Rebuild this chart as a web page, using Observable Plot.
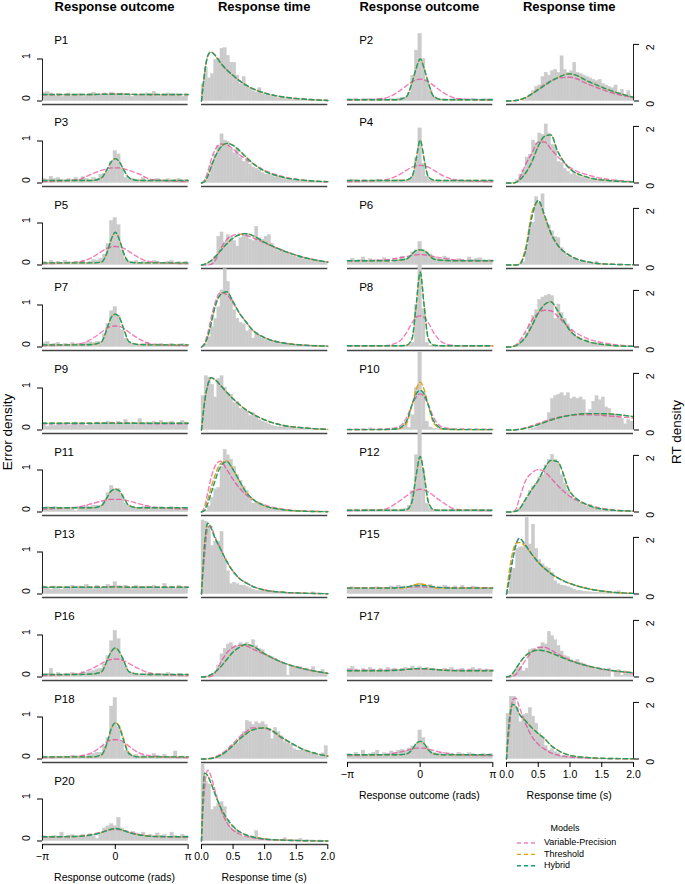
<!DOCTYPE html>
<html><head><meta charset="utf-8">
<script src="https://cdn.jsdelivr.net/npm/d3@7"></script>
<script src="https://cdn.jsdelivr.net/npm/@observablehq/plot@0.6"></script>
<style>
body{margin:0;background:#fff;}
#fig{position:relative;width:685px;height:884px;font-family:"Liberation Sans",Arial,Helvetica,sans-serif;color:#000;overflow:hidden;}
.lbl{position:absolute;white-space:nowrap;line-height:1;}
</style></head><body><div id="fig"></div>
<script>
// ---------------- DATA ----------------
const participants = ["P1","P2","P3","P4","P5","P6","P7","P8","P9","P10","P11","P12","P13","P15","P16","P17","P18","P19","P20"];
const models = ["Variable-Precision","Threshold","Hybrid"];
const columnTitles = ["Response outcome","Response time"];
const axisTitles = ["Response outcome (rads)","Response time (s)"];
const outcomeTicks = [-Math.PI, 0, Math.PI];
const outcomeTickLabels = ["−π","0","π"];
const rtTicks = [0, 0.5, 1, 1.5, 2];
const rtTickLabels = ["0.0","0.5","1.0","1.5","2.0"];
const errorTicks = [0, 1];
const rtDensityTicks = [0, 2];
const rtBinWidth = 0.05;
const outcomeGrid = [-Math.PI,-1.6,-1.0,-0.6,-0.35,-0.18,0,0.18,0.35,0.6,1.0,1.6,Math.PI];
const rtGrid = [0,0.05,0.1,0.15,0.2,0.3,0.4,0.5,0.6,0.7,0.8,1.0,1.3,1.6,2.0];

// error histograms (41 bins centred on 0, -pi..pi)
const outcomeHist = [
/*P1*/ [0.2,0.22,0.18,0.12,0.16,0.1,0.14,0.18, 0.12,0.15,0.17,0.1,0.14,0.16,0.2,0.12, 0.16,0.18,0.15,0.2,0.16,0.14,0.18,0.12,0.16, 0.1,0.15,0.14,0.12,0.18,0.16,0.22,0.1, 0.15,0.14,0.18,0.12,0.16,0.14,0.1,0.12],
/*P2*/ [0.05,0.04,0.06,0.03,0.05,0.04,0.05,0.03, 0.04,0.06,0.04,0.03,0.05,0.04,0.06,0.08, 0.08,0.2,0.6,1.2,1.6,1.0,0.5,0.25,0.1, 0.05,0.04,0.05,0.03,0.04,0.05,0.04,0.05, 0.03,0.04,0.05,0.04,0.03,0.05,0.04,0.05],
/*P3*/ [0.1,0.08,0.15,0.1,0.12,0.08,0.06,0.1, 0.07,0.12,0.08,0.14,0.1,0.06,0.12,0.1, 0.2,0.22,0.3,0.5,0.76,0.68,0.35,0.12,0.08, 0.1,0.06,0.08,0.12,0.06,0.05,0.08,0.1, 0.07,0.06,0.09,0.05,0.08,0.1,0.06,0.08],
/*P4*/ [0.04,0.08,0.05,0.04,0.06,0.05,0.04,0.05, 0.08,0.06,0.05,0.04,0.06,0.05,0.08,0.05, 0.06,0.08,0.15,0.6,1.3,0.45,0.15,0.06,0.05, 0.05,0.06,0.04,0.05,0.06,0.04,0.05,0.06, 0.05,0.04,0.06,0.05,0.04,0.05,0.06,0.04],
/*P5*/ [0.08,0.05,0.1,0.06,0.08,0.05,0.1,0.07, 0.05,0.08,0.06,0.1,0.05,0.08,0.12,0.1, 0.15,0.25,0.5,1.05,1.12,0.95,0.35,0.15,0.08, 0.06,0.1,0.05,0.08,0.06,0.04,0.1,0.08, 0.05,0.06,0.08,0.1,0.05,0.07,0.06,0.08],
/*P6*/ [0.1,0.15,0.08,0.12,0.18,0.1,0.14,0.08, 0.12,0.1,0.16,0.12,0.05,0.14,0.12,0.2, 0.15,0.2,0.3,0.35,0.55,0.35,0.3,0.25,0.2, 0.15,0.12,0.2,0.16,0.12,0.1,0.14,0.12, 0.1,0.18,0.12,0.15,0.16,0.12,0.1,0.12],
/*P7*/ [0.1,0.12,0.06,0.08,0.1,0.05,0.08,0.06, 0.1,0.05,0.08,0.06,0.1,0.12,0.1,0.12, 0.12,0.3,0.55,0.85,0.95,0.75,0.4,0.2,0.1, 0.08,0.06,0.05,0.08,0.1,0.06,0.05,0.06, 0.08,0.05,0.06,0.08,0.05,0.06,0.07,0.05],
/*P8*/ [0.02,0.03,0.02,0.03,0.02,0.02,0.03,0.02, 0.03,0.02,0.02,0.03,0.02,0.03,0.02,0.02, 0.03,0.05,0.1,1.0,2.1,0.9,0.1,0.03,0.02, 0.02,0.03,0.02,0.02,0.03,0.02,0.03,0.02, 0.02,0.03,0.02,0.02,0.03,0.02,0.02,0.03],
/*P9*/ [0.12,0.08,0.15,0.1,0.14,0.12,0.16,0.1, 0.14,0.18,0.12,0.16,0.1,0.14,0.12,0.18, 0.16,0.14,0.2,0.18,0.15,0.2,0.14,0.24,0.15, 0.18,0.12,0.26,0.14,0.18,0.12,0.2,0.16, 0.22,0.14,0.18,0.2,0.12,0.16,0.22,0.18],
/*P10*/[0.02,0.01,0.02,0.01,0.02,0.01,0.04,0.02, 0.01,0.02,0.01,0.02,0.01,0.02,0.03,0.05, 0.14,0.05,0.35,1.0,1.86,0.9,0.2,0.06,0.03, 0.02,0.01,0.02,0.01,0.01,0.02,0.01,0.02, 0.01,0.02,0.01,0.02,0.01,0.02,0.01,0.02],
/*P11*/[0.1,0.12,0.08,0.12,0.1,0.08,0.1,0.08, 0.1,0.02,0.12,0.1,0.14,0.12,0.15,0.15, 0.15,0.25,0.45,0.62,0.55,0.55,0.4,0.2,0.15, 0.12,0.1,0.08,0.12,0.15,0.1,0.08,0.1, 0.12,0.08,0.1,0.12,0.08,0.1,0.06,0.1],
/*P12*/[0.05,0.04,0.06,0.03,0.05,0.06,0.04,0.05, 0.03,0.04,0.05,0.04,0.06,0.05,0.04,0.06, 0.08,0.15,0.5,1.35,2.0,1.0,0.2,0.08,0.05, 0.04,0.05,0.03,0.04,0.06,0.04,0.05,0.03, 0.04,0.05,0.04,0.06,0.04,0.05,0.04,0.05],
/*P13*/[0.18,0.15,0.1,0.18,0.12,0.1,0.16,0.14, 0.2,0.12,0.18,0.15,0.22,0.14,0.12,0.2, 0.15,0.12,0.22,0.16,0.28,0.18,0.14,0.2,0.15, 0.12,0.2,0.16,0.14,0.18,0.12,0.2,0.15, 0.12,0.24,0.15,0.18,0.12,0.2,0.16,0.14],
/*P15*/[0.14,0.16,0.12,0.15,0.14,0.13,0.1,0.14, 0.16,0.12,0.15,0.14,0.18,0.12,0.2,0.16, 0.18,0.12,0.2,0.22,0.25,0.2,0.16,0.22,0.18, 0.15,0.12,0.2,0.16,0.14,0.18,0.12,0.2, 0.15,0.14,0.18,0.16,0.12,0.15,0.14,0.12],
/*P16*/[0.06,0.08,0.2,0.06,0.1,0.05,0.08,0.06, 0.1,0.05,0.08,0.12,0.1,0.12,0.15,0.18, 0.2,0.3,0.5,0.85,1.1,0.9,0.45,0.25,0.12, 0.1,0.08,0.05,0.06,0.08,0.1,0.05,0.06, 0.08,0.05,0.1,0.06,0.05,0.08,0.06,0.05],
/*P17*/[0.2,0.24,0.18,0.14,0.2,0.16,0.22,0.18, 0.14,0.2,0.16,0.22,0.18,0.2,0.16,0.2, 0.22,0.18,0.25,0.2,0.24,0.18,0.22,0.16,0.2, 0.18,0.14,0.2,0.16,0.22,0.12,0.18,0.2, 0.14,0.18,0.22,0.16,0.2,0.14,0.18,0.16],
/*P18*/[0.06,0.04,0.05,0.06,0.04,0.05,0.06,0.05, 0.08,0.04,0.06,0.08,0.06,0.1,0.12,0.15, 0.15,0.3,0.5,1.25,1.45,0.75,0.4,0.2,0.12, 0.08,0.1,0.06,0.08,0.05,0.06,0.12,0.08, 0.06,0.1,0.05,0.06,0.18,0.05,0.06,0.05],
/*P19*/[0.12,0.1,0.15,0.08,0.2,0.1,0.12,0.15, 0.2,0.1,0.14,0.12,0.18,0.15,0.2,0.22, 0.2,0.25,0.3,0.35,0.68,0.5,0.3,0.2,0.15, 0.12,0.15,0.1,0.14,0.12,0.1,0.15,0.12, 0.1,0.14,0.12,0.1,0.08,0.12,0.1,0.12],
/*P20*/[0.12,0.1,0.08,0.12,0.1,0.2,0.1,0.12, 0.14,0.08,0.12,0.15,0.1,0.16,0.12,0.05, 0.2,0.3,0.35,0.4,0.35,0.55,0.3,0.25,0.2, 0.22,0.18,0.14,0.2,0.12,0.15,0.1,0.18, 0.12,0.14,0.1,0.2,0.12,0.1,0.15,0.12]
];

// response-time histograms (40 bins of 0.05 s, 0..2 s)
const rtHist = [
/*P1*/ [0.58,1.17,0.8,0.95,1.45,1.5,1.85,1.87,1.6,1.35, 1.35,0.9,0.6,0.85,0.5,0.45,0.35,0.3,0.45,0.25, 0.2,0.22,0.15,0.12,0.1,0.12,0.08,0.06,0.05,0.06, 0.04,0.03,0.04,0.03,0.02,0.03,0.02,0.03,0.02,0.01],
/*P2*/ [0,0,0,0,0,0.02,0.1,0.2,0.35,0.5, 0.55,0.85,1.0,0.9,1.05,1.1,1.0,1.58,1.1,1.0, 1.05,1.35,1.0,0.95,0.9,0.85,0.8,0.75,0.7,0.75, 0.6,0.55,0.5,0.45,0.55,0.3,0.4,0.2,0.35,0.15],
/*P3*/ [0,0.1,0.3,0.7,1.0,1.3,1.72,1.5,1.45,1.2, 1.05,1.2,0.9,0.75,0.8,0.65,0.55,0.5,0.45,0.35, 0.3,0.3,0.25,0.2,0.22,0.15,0.15,0.12,0.1,0.12, 0.08,0.07,0.06,0.08,0.05,0.04,0.05,0.03,0.04,0.03],
/*P4*/ [0,0,0.02,0.1,0.3,0.45,0.9,1.0,1.5,1.4, 1.75,1.7,2.07,1.75,1.35,1.3,0.75,0.7,0.5,0.4, 0.3,0.35,0.25,0.2,0.2,0.15,0.15,0.1,0.12,0.1, 0.08,0.1,0.05,0.06,0.1,0.05,0.08,0.05,0.04,0.03],
/*P5*/ [0,0.02,0.05,0.15,0.3,1.0,1.15,0.8,1.05,1.0, 0.85,0.65,0.95,1.05,1.1,0.9,0.85,1.35,0.95,0.9, 1.0,1.05,0.75,0.6,0.5,0.55,0.45,0.4,0.35,0.3, 0.25,0.3,0.2,0.18,0.15,0.2,0.12,0.1,0.1,0.05],
/*P6*/ [0,0,0,0,0.02,0.1,0.6,1.3,1.5,2.4, 2.2,2.5,1.6,1.4,1.2,1.0,0.95,0.6,0.4,0.3, 0.25,0.2,0.15,0.12,0.1,0.08,0.06,0.05,0.12,0.03, 0.03,0.02,0.02,0.01,0.01,0.01,0.01,0.01,0.01,0.01],
/*P7*/ [0,0.1,0.35,0.7,1.0,1.4,2.0,2.75,2.3,1.7, 1.3,1.0,0.85,0.8,0.55,0.6,0.3,0.5,0.4,0.3, 0.25,0.2,0.18,0.2,0.12,0.15,0.1,0.12,0.1,0.08, 0.07,0.06,0.05,0.04,0.05,0.03,0.04,0.03,0.02,0.02],
/*P8*/ [0,0,0,0.05,0.15,0.3,0.5,0.8,1.1,1.3, 1.66,1.75,1.8,1.85,1.8,1.0,1.5,1.2,1.0,0.8, 0.6,0.45,0.35,0.3,0.2,0.25,0.15,0.12,0.15,0.1, 0.08,0.06,0.05,0.04,0.03,0.03,0.02,0.02,0.02,0.02],
/*P9*/ [1.2,1.9,1.85,1.6,1.15,1.8,1.9,1.5,1.3,1.25, 0.95,1.0,0.75,0.7,0.65,0.5,0.6,0.45,0.35,0.3, 0.25,0.2,0.15,0.12,0.1,0.1,0.12,0.1,0.08,0.1, 0.06,0.05,0.04,0.05,0.03,0.03,0.02,0.03,0.02,0.02],
/*P10*/[0,0,0,0,0,0,0,0.02,0.05,0.1, 0.15,0.25,0.25,0.6,1.1,1.2,1.25,1.3,1.2,1.3, 1.1,1.15,1.1,1.15,1.05,0.6,0.7,1.0,1.2,1.05, 1.15,0.8,0.75,0.5,0.55,0.45,0.4,0.2,0.35,0.3],
/*P11*/[0,0.05,0.2,0.5,0.8,0.85,1.6,2.2,2.0,1.85, 1.6,1.3,1.1,0.9,0.75,0.5,0.3,0.35,0.3,0.2, 0.15,0.12,0.1,0.1,0.08,0.06,0.05,0.04,0.05,0.03, 0.03,0.02,0.03,0.02,0.02,0.01,0.02,0.01,0.01,0.01],
/*P12*/[0,0,0,0.05,0.1,0.3,0.5,0.75,0.9,1.0, 1.2,1.3,1.65,1.85,2.02,1.85,1.7,1.3,1.0,0.75, 0.55,0.45,0.35,0.3,0.25,0.2,0.25,0.15,0.12,0.1, 0.06,0.05,0.04,0.03,0.03,0.03,0.03,0.03,0.03,0.03],
/*P13*/[2.6,2.55,2.4,1.7,1.85,1.85,2.2,1.25,0.8,0.35, 0.4,0.35,0.3,0.3,0.25,0.2,0.15,0.12,0.1,0.12, 0.1,0.08,0.1,0.06,0.05,0.04,0.05,0.03,0.03,0.02, 0.03,0.02,0.02,0.01,0.02,0.06,0.01,0,0,0],
/*P15*/[0.1,0.85,0.9,1.6,1.65,1.65,2.7,1.75,2.45,1.6, 1.2,1.05,0.95,0.9,0.75,0.45,0.35,0.3,0.28,0.25, 0.2,0.15,0.12,0.1,0.08,0.07,0.06,0.05,0.05,0.04, 0.04,0.03,0.03,0.03,0.02,0.1,0.02,0.02,0.01,0.01],
/*P16*/[0,0,0.02,0.05,0.15,0.4,0.8,1.0,1.15,1.2, 1.05,1.1,1.2,1.15,1.2,1.1,1.3,1.1,1.0,0.95, 0.8,0.75,0.7,0.65,0.55,0.5,0.45,0.05,0.4,0.35, 0.3,0.35,0.25,0.3,0.2,0.35,0.2,0.15,0.25,0.12],
/*P17*/[0,0.05,0.12,0.3,0.35,0.2,0.3,0.95,1.0,0.95, 1.05,1.2,1.15,1.6,1.45,1.3,1.1,0.9,0.75,0.7, 0.6,0.55,0.6,0.5,0.45,0.4,0.35,0.3,0.25,0.3, 0.25,0.2,0.3,0,0.2,0.25,0.05,0.2,0.15,0.12],
/*P18*/[0,0,0,0,0.02,0.1,0.15,0.2,0.3,0.45, 0.5,0.55,0.75,0.95,1.35,1.3,1.2,1.3,1.25,1.3, 1.2,1.05,0.7,1.1,0.95,0.8,0.6,0.55,0.5,0.35, 0.3,0.3,0.3,0.25,0.2,0.2,0.15,0.1,0.2,0.45],
/*P19*/[1.6,2.2,2.2,1.8,1.3,1.55,1.6,1.8,1.5,1.25, 0.9,0.75,0.45,0.3,0.35,0.25,0.2,0.1,0.12,0.08, 0.06,0.05,0.04,0.03,0.03,0.02,0.02,0.02,0.01,0.01, 0.01,0.01,0.01,0,0.01,0,0,0,0,0],
/*P20*/[2.7,2.1,2.0,1.1,1.2,1.3,1.37,1.2,0.7,0.5, 0.4,0.35,0.2,0.15,0.12,0.15,0.15,0.35,0.1,0.08, 0.06,0.05,0.04,0.05,0.04,0.03,0.1,0.03,0.04,0.03, 0.02,0.08,0.02,0.03,0.02,0.02,0.01,0.02,0.01,0.01]
];

// model predictions for error density, sampled at outcomeGrid
const outcomeVP = [
/*P1*/ [0.15,0.15,0.155,0.16,0.17,0.175,0.178,0.175,0.17,0.16,0.155,0.15,0.15],
/*P2*/ [0.02,0.06,0.2,0.36,0.46,0.5,0.52,0.5,0.46,0.36,0.2,0.06,0.02],
/*P3*/ [0.03,0.08,0.22,0.3,0.34,0.36,0.36,0.36,0.34,0.3,0.22,0.08,0.03],
/*P4*/ [0.03,0.07,0.17,0.3,0.38,0.41,0.42,0.41,0.38,0.3,0.17,0.07,0.03],
/*P5*/ [0.03,0.07,0.18,0.32,0.4,0.43,0.44,0.43,0.4,0.32,0.18,0.07,0.03],
/*P6*/ [0.1,0.12,0.16,0.2,0.23,0.24,0.25,0.24,0.23,0.2,0.16,0.12,0.1],
/*P7*/ [0.03,0.07,0.2,0.35,0.45,0.49,0.5,0.49,0.45,0.35,0.2,0.07,0.03],
/*P8*/ [0.02,0.03,0.1,0.33,0.58,0.7,0.74,0.7,0.58,0.33,0.1,0.03,0.02],
/*P9*/ [0.15,0.15,0.155,0.16,0.165,0.17,0.172,0.17,0.165,0.16,0.155,0.15,0.15],
/*P10*/[0.01,0.02,0.06,0.28,0.6,0.78,0.86,0.78,0.6,0.28,0.06,0.02,0.01],
/*P11*/[0.07,0.12,0.2,0.26,0.29,0.3,0.3,0.3,0.29,0.26,0.2,0.12,0.07],
/*P12*/[0.03,0.06,0.22,0.38,0.48,0.52,0.54,0.52,0.48,0.38,0.22,0.06,0.03],
/*P13*/[0.16,0.16,0.165,0.17,0.175,0.18,0.18,0.18,0.175,0.17,0.165,0.16,0.16],
/*P15*/[0.15,0.15,0.155,0.16,0.165,0.17,0.17,0.17,0.165,0.16,0.155,0.15,0.15],
/*P16*/[0.03,0.08,0.2,0.32,0.39,0.42,0.43,0.42,0.39,0.32,0.2,0.08,0.03],
/*P17*/[0.16,0.16,0.17,0.18,0.185,0.19,0.19,0.19,0.185,0.18,0.17,0.16,0.16],
/*P18*/[0.03,0.07,0.15,0.3,0.41,0.45,0.46,0.45,0.41,0.3,0.15,0.07,0.03],
/*P19*/[0.08,0.1,0.15,0.2,0.24,0.26,0.26,0.26,0.24,0.2,0.15,0.1,0.08],
/*P20*/[0.09,0.11,0.16,0.21,0.25,0.27,0.27,0.27,0.25,0.21,0.16,0.11,0.09]
];
const outcomeHybrid = [
/*P1*/ [0.155,0.155,0.155,0.158,0.16,0.162,0.163,0.162,0.16,0.158,0.155,0.155,0.155],
/*P2*/ [0.03,0.03,0.03,0.1,0.44,0.76,1.0,0.76,0.44,0.1,0.03,0.03,0.03],
/*P3*/ [0.06,0.06,0.06,0.12,0.33,0.5,0.58,0.5,0.33,0.12,0.06,0.06,0.06],
/*P4*/ [0.06,0.06,0.06,0.07,0.15,0.55,1.02,0.55,0.15,0.07,0.06,0.06,0.06],
/*P5*/ [0.05,0.05,0.05,0.07,0.3,0.6,0.78,0.6,0.3,0.07,0.05,0.05,0.05],
/*P6*/ [0.1,0.1,0.11,0.14,0.26,0.34,0.36,0.34,0.26,0.14,0.11,0.1,0.1],
/*P7*/ [0.05,0.05,0.06,0.12,0.45,0.7,0.78,0.7,0.45,0.12,0.06,0.05,0.05],
/*P8*/ [0.03,0.03,0.03,0.04,0.2,0.95,1.78,0.95,0.2,0.04,0.03,0.03,0.03],
/*P9*/ [0.16,0.16,0.16,0.16,0.16,0.162,0.163,0.162,0.16,0.16,0.16,0.16,0.16],
/*P10*/[0.01,0.01,0.03,0.2,0.6,0.85,0.94,0.85,0.6,0.2,0.03,0.01,0.01],
/*P11*/[0.1,0.1,0.1,0.15,0.35,0.5,0.54,0.5,0.35,0.15,0.1,0.1,0.1],
/*P12*/[0.04,0.04,0.04,0.05,0.25,0.85,1.32,0.85,0.25,0.05,0.04,0.04,0.04],
/*P13*/[0.16,0.16,0.16,0.16,0.165,0.168,0.17,0.168,0.165,0.16,0.16,0.16,0.16],
/*P15*/[0.14,0.14,0.15,0.17,0.19,0.2,0.2,0.2,0.19,0.17,0.15,0.14,0.14],
/*P16*/[0.06,0.06,0.07,0.12,0.4,0.6,0.69,0.6,0.4,0.12,0.07,0.06,0.06],
/*P17*/[0.15,0.15,0.16,0.18,0.19,0.2,0.2,0.2,0.19,0.18,0.16,0.15,0.15],
/*P18*/[0.05,0.05,0.05,0.1,0.4,0.72,0.86,0.75,0.45,0.12,0.05,0.05,0.05],
/*P19*/[0.1,0.1,0.1,0.12,0.22,0.36,0.42,0.36,0.22,0.12,0.1,0.1,0.1],
/*P20*/[0.1,0.11,0.15,0.2,0.25,0.28,0.3,0.28,0.25,0.2,0.15,0.11,0.1]
];
// Threshold model: null where it coincides with the Hybrid curve
const outcomeThreshold = [
null,null,null,null,null,null,null,null,null,
/*P10*/[0.01,0.01,0.02,0.15,0.6,0.95,1.14,0.95,0.6,0.15,0.02,0.01,0.01],
null,null,null,
/*P15*/[0.14,0.14,0.14,0.15,0.2,0.23,0.24,0.23,0.2,0.15,0.14,0.14,0.14],
null,null,
/*P18*/[0.05,0.05,0.05,0.09,0.38,0.7,0.86,0.78,0.5,0.14,0.05,0.05,0.05],
null,null
];

// model predictions for RT density, sampled at rtGrid
const rtVP = [
/*P1*/ [0,1.0,1.6,1.73,1.65,1.35,1.1,0.9,0.72,0.57,0.45,0.28,0.14,0.07,0.02],
/*P2*/ [0,0,0.01,0.02,0.04,0.12,0.26,0.42,0.58,0.72,0.8,0.84,0.58,0.33,0.12],
/*P3*/ [0,0.1,0.4,0.8,1.1,1.38,1.35,1.2,1.0,0.85,0.7,0.45,0.22,0.1,0.04],
/*P4*/ [0,0,0,0.02,0.15,0.65,1.05,1.45,1.45,1.2,0.95,0.55,0.27,0.13,0.05],
/*P5*/ [0,0,0,0.02,0.1,0.55,0.9,1.05,1.09,1.05,0.97,0.78,0.5,0.28,0.1],
/*P6*/ [0,0,0,0,0.02,0.5,1.7,2.28,1.75,1.12,0.72,0.33,0.1,0.03,0.01],
/*P7*/ [0,0.15,0.5,1.0,1.45,1.92,1.85,1.55,1.2,0.9,0.62,0.33,0.14,0.07,0.03],
/*P8*/ [0,0,0.03,0.08,0.2,0.55,0.95,1.2,1.3,1.28,1.1,0.65,0.28,0.12,0.03],
/*P9*/ [0,1.0,1.6,1.85,1.8,1.58,1.33,1.1,0.9,0.72,0.58,0.36,0.16,0.08,0.02],
/*P10*/[0,0,0,0.01,0.03,0.08,0.15,0.23,0.31,0.38,0.44,0.52,0.54,0.5,0.42],
/*P11*/[0,0.2,0.7,1.2,1.55,1.8,1.5,1.15,0.85,0.62,0.45,0.25,0.1,0.04,0.02],
/*P12*/[0,0,0.02,0.1,0.45,1.1,1.38,1.5,1.42,1.2,0.95,0.55,0.24,0.1,0.03],
/*P13*/[0,1.4,2.35,2.4,2.1,1.6,1.15,0.8,0.55,0.4,0.28,0.14,0.06,0.03,0.01],
/*P15*/[0,0.6,1.25,1.75,1.97,1.72,1.4,1.12,0.9,0.72,0.58,0.37,0.18,0.08,0.02],
/*P16*/[0,0,0,0.02,0.1,0.5,0.85,1.05,1.12,1.1,1.0,0.8,0.5,0.3,0.13],
/*P17*/[0,0,0.02,0.1,0.25,0.6,0.88,1.04,1.05,0.95,0.82,0.6,0.38,0.24,0.14],
/*P18*/[0,0,0.01,0.03,0.06,0.17,0.33,0.55,0.78,0.95,1.1,1.08,0.7,0.35,0.1],
/*P19*/[0,1.2,2.1,2.15,1.85,1.25,0.8,0.52,0.35,0.22,0.14,0.07,0.03,0.01,0],
/*P20*/[0,1.9,2.5,2.3,1.9,1.15,0.65,0.38,0.25,0.17,0.12,0.06,0.03,0.01,0]
];
const rtHybrid = [
/*P1*/ [0,1.0,1.6,1.73,1.65,1.35,1.1,0.9,0.72,0.57,0.45,0.28,0.14,0.07,0.02],
/*P2*/ [0,0,0.01,0.02,0.04,0.12,0.25,0.4,0.55,0.7,0.82,0.96,0.68,0.4,0.13],
/*P3*/ [0,0.05,0.25,0.55,0.85,1.25,1.4,1.33,1.15,0.93,0.72,0.42,0.2,0.1,0.05],
/*P4*/ [0,0,0,0.02,0.1,0.35,0.75,1.3,1.65,1.7,1.15,0.5,0.19,0.09,0.04],
/*P5*/ [0,0.03,0.08,0.15,0.25,0.5,0.75,0.95,1.07,1.11,1.05,0.8,0.5,0.28,0.1],
/*P6*/ [0,0,0,0,0.02,0.5,1.7,2.28,1.75,1.12,0.72,0.33,0.1,0.03,0.01],
/*P7*/ [0,0.1,0.37,0.8,1.3,1.85,1.95,1.6,1.2,0.9,0.62,0.33,0.14,0.07,0.03],
/*P8*/ [0,0,0.02,0.05,0.12,0.35,0.75,1.2,1.5,1.6,1.3,0.58,0.18,0.07,0.02],
/*P9*/ [0,1.0,1.6,1.85,1.8,1.58,1.33,1.1,0.9,0.72,0.58,0.36,0.16,0.08,0.02],
/*P10*/[0,0,0,0.01,0.02,0.06,0.12,0.19,0.27,0.35,0.42,0.52,0.58,0.57,0.47],
/*P11*/[0,0.05,0.3,0.65,1.0,1.6,1.78,1.5,1.1,0.72,0.48,0.22,0.08,0.03,0.01],
/*P12*/[0,0,0.01,0.03,0.1,0.45,0.8,1.12,1.55,1.82,1.78,0.72,0.23,0.08,0.03],
/*P13*/[0,1.8,2.5,2.35,2.05,1.6,1.15,0.8,0.55,0.4,0.28,0.14,0.06,0.03,0.01],
/*P15*/[0,0.6,1.25,1.75,1.97,1.72,1.4,1.12,0.9,0.72,0.58,0.37,0.18,0.08,0.02],
/*P16*/[0,0.01,0.03,0.08,0.15,0.35,0.62,0.88,1.05,1.15,1.1,0.82,0.5,0.3,0.13],
/*P17*/[0,0.03,0.13,0.3,0.47,0.75,0.9,0.95,0.92,0.85,0.76,0.58,0.38,0.25,0.15],
/*P18*/[0,0,0.01,0.02,0.04,0.13,0.28,0.48,0.7,0.88,1.02,1.1,0.72,0.35,0.1],
/*P19*/[0,1.5,1.93,1.85,1.6,1.35,1.1,0.9,0.72,0.48,0.32,0.13,0.05,0.02,0.01],
/*P20*/[0,2.4,2.3,2.05,1.75,1.2,0.8,0.52,0.33,0.22,0.15,0.07,0.03,0.01,0]
];
const rtThreshold = [
null,null,null,null,null,
/*P6*/ [0,0,0,0,0.03,0.6,1.85,2.25,1.7,1.1,0.72,0.33,0.1,0.03,0.01],
null,null,null,null,
/*P11*/[0,0.1,0.45,0.85,1.2,1.7,1.8,1.5,1.1,0.72,0.48,0.22,0.08,0.03,0.01],
null,null,
/*P15*/[0,0.9,1.5,1.8,1.82,1.68,1.4,1.12,0.9,0.72,0.58,0.37,0.18,0.08,0.02],
null,null,null,null,null
];

// ---------------- STYLE / LAYOUT ----------------
const FONT = "'Liberation Sans', Arial, Helvetica, sans-serif";
const HIST = "#cbcbcb";
const modelColor = ["#E7298A", "#E6A00F", "#1B9E77"];
const modelOpacity = [0.6, 1, 1];
const modelDashOffset = [0, 0.9, 0];
const DASH = "4.5,3";
const outcomeLeft = [41.7, 346.7], outcomeWidth = [145.6, 145.3];
const rtLeft = [201, 505.7], rtWidth = [126.3, 127];
const ROW0 = 100, ROW_STEP = 82.3;
const PX_OUT = 42, PX_RT = 28.3;
const PH = 150, MB = 40, ML = 34, MR = 34;
const ZIN = PH - MB - 3.5; // zero line inside each svg

const fig = document.getElementById("fig");

function label(text, x, baseline, size, {anchor = "middle", weight = "normal"} = {}) {
  const d = document.createElement("div");
  d.className = "lbl";
  d.textContent = text;
  d.style.fontSize = size + "px";
  d.style.fontWeight = weight;
  d.style.left = x + "px";
  d.style.top = (baseline - 0.86 * size) + "px";
  const tx = anchor === "middle" ? "-50%" : anchor === "end" ? "-100%" : "0";
  d.style.transform = `translateX(${tx})`;
  fig.appendChild(d);
}
function vlabel(text, cx, cy, size) {
  const d = document.createElement("div");
  d.className = "lbl";
  d.textContent = text;
  d.style.fontSize = size + "px";
  d.style.left = cx + "px";
  d.style.top = cy + "px";
  d.style.transform = "translate(-50%,-50%) rotate(-90deg)";
  fig.appendChild(d);
}

function panel(kind, i) {
  const side = i % 2, row = Math.floor(i / 2);
  const isOut = kind === "outcome";
  const left = isOut ? outcomeLeft[side] : rtLeft[side];
  const pw = isOut ? outcomeWidth[side] : rtWidth[side];
  const dom = isOut ? [-Math.PI, Math.PI] : [0, 2];
  const ppu = isOut ? PX_OUT : PX_RT;
  const zeroY = ROW0 + ROW_STEP * row;
  const W = Math.ceil(pw + ML + MR);
  const bottom = i + 2 >= participants.length;

  const hv = isOut ? outcomeHist[i] : rtHist[i];
  const bw = isOut ? 2 * Math.PI / hv.length : rtBinWidth;
  const bins = hv.map((v, k) => ({x1: dom[0] + k * bw, x2: dom[0] + (k + 1) * bw, y: v}));
  const grid = isOut ? outcomeGrid : rtGrid;
  const hyb = isOut ? outcomeHybrid[i] : rtHybrid[i];
  const thr = (isOut ? outcomeThreshold[i] : rtThreshold[i]) || hyb;
  const vp = isOut ? outcomeVP[i] : rtVP[i];
  const series = [vp, thr, hyb];

  const marks = [
    Plot.rect(bins, {x1: "x1", x2: "x2", y1: 0, y2: "y", fill: HIST, stroke: HIST, strokeWidth: 0.4})
  ];
  series.forEach((arr, m) => {
    marks.push(Plot.line(grid.map((x, k) => ({x, y: arr[k]})), {
      x: "x", y: "y", curve: "monotone-x", stroke: modelColor[m], strokeOpacity: modelOpacity[m],
      strokeWidth: 1.4, strokeDasharray: DASH, strokeDashoffset: modelDashOffset[m]
    }));
  });
  marks.push(Plot.ruleY([0], {x1: dom[0], x2: dom[1], dy: 3.5, stroke: "#444", strokeWidth: 1.3}));

  if (isOut && side === 0) {
    marks.push(Plot.ruleX([dom[0]], {y1: errorTicks[0], y2: errorTicks[1], stroke: "#222"}));
    marks.push(Plot.axisY({anchor: "left", ticks: errorTicks, tickSize: 5, fill: "none", label: null}));
    marks.push(Plot.text(errorTicks, {y: d => d, text: d => String(d), frameAnchor: "left", rotate: -90, dx: -16, fontSize: 10.5}));
  }
  if (!isOut && side === 1) {
    marks.push(Plot.ruleX([dom[1]], {y1: rtDensityTicks[0], y2: rtDensityTicks[1], stroke: "#222"}));
    marks.push(Plot.axisY({anchor: "right", ticks: rtDensityTicks, tickSize: 5, fill: "none", label: null}));
    marks.push(Plot.text(rtDensityTicks, {y: d => d, text: d => String(d), frameAnchor: "right", rotate: -90, dx: 17, fontSize: 10.5}));
  }
  if (bottom) {
    const ticks = isOut ? outcomeTicks : rtTicks;
    const labs = isOut ? outcomeTickLabels : rtTickLabels;
    marks.push(Plot.axisX({anchor: "bottom", ticks, tickFormat: d => labs[ticks.indexOf(d)], tickSize: 5, tickPadding: 3, fontSize: 10.5, label: null}));
  }

  const svg = Plot.plot({
    width: W, height: PH, marginLeft: ML, marginRight: MR, marginTop: 0, marginBottom: MB,
    x: {domain: dom, range: [ML, ML + pw], axis: null},
    y: {domain: [0, 1], range: [ZIN, ZIN - ppu], axis: null},
    style: `position:absolute;left:${left - ML}px;top:${zeroY - ZIN}px;overflow:visible;background:none;font-family:${FONT};font-size:10.5px;color:#000;max-width:none;`,
    marks
  });
  fig.appendChild(svg);

  if (isOut) label(participants[i], left + 12.5, zeroY - 55, 11.5, {anchor: "start"});
  if (bottom) {
    const base = zeroY + 40.3;
    label(axisTitles[isOut ? 0 : 1], left + pw / 2, base, 10.5);
  }
}

participants.forEach((p, i) => { panel("outcome", i); panel("rt", i); });

// column headers
[0, 1].forEach(side => {
  label(columnTitles[0], outcomeLeft[side] + outcomeWidth[side] / 2, 11.5, 13, {weight: "bold"});
  label(columnTitles[1], rtLeft[side] + rtWidth[side] / 2, 11.5, 13, {weight: "bold"});
});
vlabel("Error density", 8, 432, 13.5);
vlabel("RT density", 677, 432, 13.5);

// legend
label("Models", 565, 831.6, 9);
const leg = d3.create("svg").attr("width", 30).attr("height", 40)
  .style("position", "absolute").style("left", "512px").style("top", "835px").style("overflow", "visible");
models.forEach((m, k) => {
  const y = 8 + k * 11.4;
  leg.append("line").attr("x1", 5).attr("x2", 25).attr("y1", y).attr("y2", y)
    .attr("stroke", modelColor[k]).attr("stroke-opacity", modelOpacity[k])
    .attr("stroke-width", 1.4).attr("stroke-dasharray", "4,3");
  label(m, 544, 835 + y + 3.2, 9, {anchor: "start"});
});
fig.appendChild(leg.node());
</script>
</body></html>
